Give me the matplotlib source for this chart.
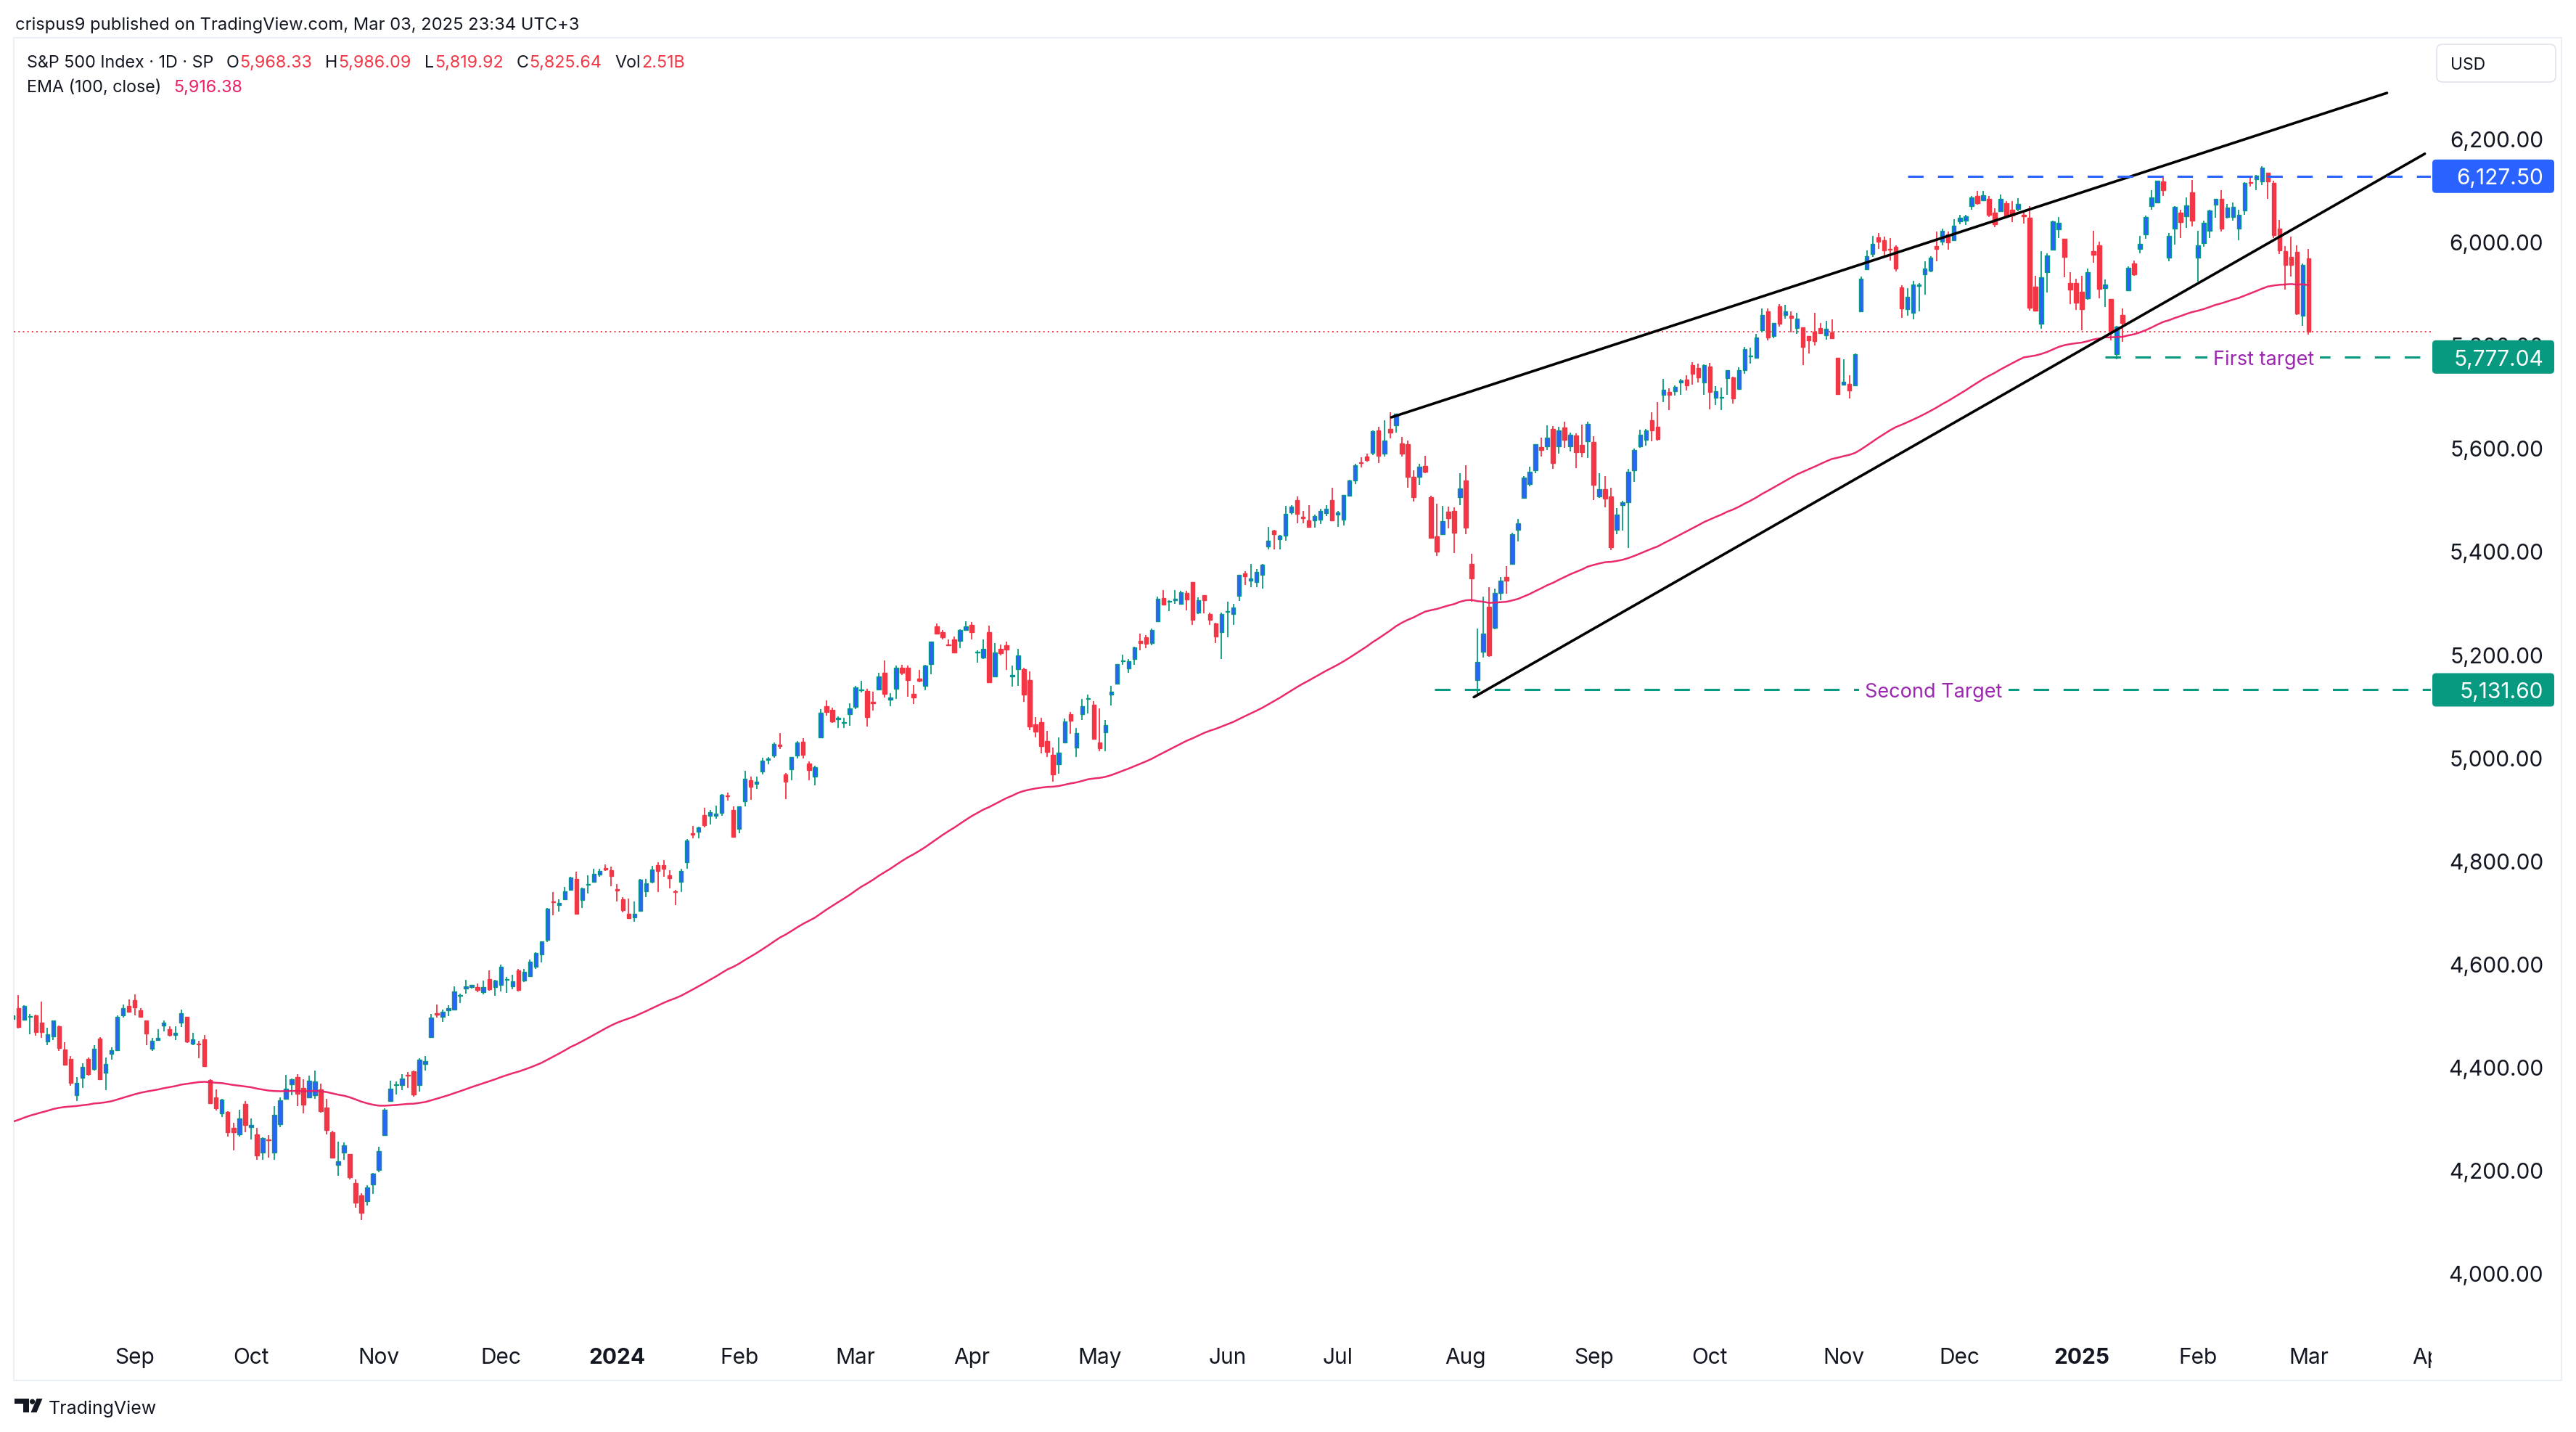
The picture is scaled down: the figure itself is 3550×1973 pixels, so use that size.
import numpy as np
import matplotlib
matplotlib.use("Agg")
import matplotlib.pyplot as plt
from matplotlib import transforms
from matplotlib.patches import Rectangle, FancyBboxPatch, Polygon, Circle
from matplotlib.transforms import Bbox, TransformedBbox

# ---------------- DATA (S&P 500 daily, 3 Aug 2023 .. 3 Mar 2025) ----------------
opens = [
    4494,4514,4492,4498,4501,4487,4450,4459,4479,4434,4416,4345,4380,4416,4396,4455,4389,4426,4433,4500,4518,  # Aug23
    4530,4510,4490,4435,4452,4480,4474,4462,4487,4498,4445,4445,4454,4375,4341,4311,4313,4282,4270,4328,  # Sep23
    4284,4270,4234,4259,4235,4290,4339,4367,4381,4360,4342,4346,4357,4322,4274,4210,4235,4232,4176,4152,4140,4172,  # Oct23
    4201,4268,4334,4365,4365,4384,4392,4365,4406,4458,4505,4497,4510,4512,4538,4553,4555,4555,4546,4571,4555,  # Nov23
    4559,4569,4557,4587,4568,4576,4594,4618,4647,4722,4714,4726,4744,4765,4724,4754,4759,4774,4786,4782,  # Dec23
    4745,4726,4698,4690,4703,4741,4760,4792,4791,4772,4740,4760,4797,4853,4856,4889,4887,4888,4893,4926,4899,  # Jan24
    4862,4916,4957,4950,4973,4996,5004,5026,4967,4977,5004,5031,4989,4964,5039,5100,5093,5074,5068,5085,  # Feb24
    5098,5131,5130,5109,5132,5164,5112,5134,5174,5175,5124,5154,5139,5182,5254,5243,5220,5229,5226,5248,  # Mar24
    5258,5204,5194,5244,5158,5211,5218,5158,5172,5171,5150,5065,5069,5032,5005,4988,5029,5085,5020,5084,5114,5103,  # Apr24
    5029,5049,5122,5143,5187,5173,5191,5226,5233,5222,5264,5310,5303,5305,5298,5319,5340,5282,5315,5279,5260,5244,  # May24
    5283,5278,5314,5357,5343,5341,5354,5410,5441,5424,5431,5476,5500,5467,5460,5460,5461,5474,5499,  # Jun24
    5471,5461,5508,5537,5573,5584,5591,5635,5590,5638,5644,5610,5608,5544,5545,5566,5505,5429,5433,5477,5479,5505,  # Jul24
    5537,5376,5151,5206,5293,5252,5319,5351,5376,5442,5504,5531,5557,5602,5603,5637,5603,5640,5603,5625,5607,5613,  # Aug24
    5612,5507,5520,5507,5442,5490,5496,5557,5603,5616,5655,5641,5703,5709,5711,5728,5733,5762,5756,5727,  # Sep24
    5758,5698,5698,5736,5737,5715,5751,5778,5775,5829,5866,5817,5875,5859,5857,5833,5835,5817,5826,5833,5819,5825,5775,  # Oct24
    5723,5725,5722,5865,5947,5977,6009,6004,5986,5990,5912,5869,5862,5915,5937,5944,5992,6000,6014,6003,  # Nov24
    6040,6042,6069,6089,6081,6083,6057,6060,6075,6063,6064,6053,6047,5913,5842,5941,5985,6024,6006,5920,5920,  # Dec24
    5903,5891,5982,5994,5910,5890,5782,5859,5906,5958,5986,6015,6069,6076,6118,5969,6026,6057,6050,6096,  # Jan25
    5969,5998,6021,6072,6083,6048,6049,6026,6061,6116,6121,6117,6134,6115,6026,5982,5971,5981,5857,  # Feb25
    5968.33,  # Mar25
]
highs = [
    4519,4540,4520,4503,4502,4527,4476,4490,4480,4449,4421,4381,4408,4419,4443,4458,4419,4439,4500,4521,4532,
    4541,4514,4491,4457,4474,4491,4479,4479,4511,4498,4466,4451,4462,4376,4357,4338,4314,4292,4317,4334,
    4300,4282,4264,4268,4324,4341,4385,4378,4386,4377,4383,4393,4368,4339,4276,4256,4254,4232,4183,4156,4171,4195,
    4245,4320,4374,4372,4386,4391,4393,4418,4421,4503,4521,4511,4520,4557,4542,4569,4560,4562,4568,4587,4570,
    4599,4575,4579,4591,4590,4609,4623,4644,4709,4739,4726,4749,4769,4779,4748,4772,4785,4785,4793,4789,
    4755,4730,4727,4721,4765,4765,4790,4798,4802,4782,4744,4785,4842,4868,4866,4903,4898,4907,4929,4932,4906,
    4906,4975,4964,4964,5000,5001,5030,5048,4971,5002,5033,5038,4993,4984,5094,5111,5097,5080,5077,5105,
    5140,5149,5134,5128,5165,5189,5125,5179,5180,5179,5141,5170,5180,5225,5261,5247,5229,5235,5249,5264,
    5263,5208,5229,5256,5222,5219,5225,5178,5211,5175,5168,5079,5077,5052,5019,5039,5076,5089,5057,5114,5123,5110,
    5096,5073,5140,5181,5200,5192,5215,5240,5238,5250,5312,5325,5306,5325,5324,5323,5341,5311,5315,5281,5262,5281,
    5302,5298,5354,5362,5376,5366,5376,5447,5442,5432,5488,5490,5506,5479,5490,5472,5483,5490,5524,
    5479,5510,5539,5570,5583,5590,5635,5642,5655,5670,5667,5622,5615,5557,5570,5586,5508,5492,5488,5487,5486,5552,
    5567,5396,5250,5312,5330,5328,5351,5372,5436,5463,5546,5564,5608,5620,5644,5643,5641,5651,5631,5629,5646,5651,
    5623,5552,5546,5523,5484,5498,5560,5600,5636,5637,5670,5690,5734,5716,5722,5735,5741,5767,5764,5763,
    5765,5720,5718,5752,5739,5757,5796,5795,5822,5871,5871,5843,5879,5878,5866,5863,5835,5817,5862,5843,5847,5850,5776,
    5772,5742,5784,5933,5983,6012,6018,6010,6008,5993,5916,5910,5925,5921,5963,5972,6020,6026,6020,6044,
    6053,6053,6089,6099,6099,6089,6065,6092,6079,6079,6085,6058,6070,5935,5982,5978,6041,6049,6006,5941,5929,
    5935,5949,6021,6001,5927,5890,5838,5871,5953,5964,6012,6051,6100,6119,6128,6018,6070,6063,6087,6120,
    6022,6042,6062,6084,6101,6074,6076,6063,6116,6128,6130,6147,6134,6119,6043,5992,6010,5994,5959,
    5986.09,
]
lows = [
    4485,4475,4492,4464,4461,4457,4443,4453,4432,4403,4364,4335,4360,4383,4394,4375,4356,4414,4431,4496,4507,
    4501,4496,4443,4431,4452,4470,4459,4453,4478,4447,4442,4417,4402,4329,4316,4303,4265,4238,4265,4274,
    4260,4220,4220,4225,4220,4283,4339,4346,4324,4311,4342,4338,4312,4269,4224,4190,4220,4182,4127,4103,4132,4154,
    4197,4268,4334,4347,4355,4360,4343,4353,4394,4458,4496,4488,4499,4510,4525,4542,4553,4546,4541,4548,4538,
    4547,4544,4551,4547,4565,4575,4591,4603,4643,4694,4702,4726,4744,4697,4709,4737,4758,4769,4780,4751,
    4722,4700,4687,4682,4703,4730,4756,4739,4769,4747,4714,4740,4785,4844,4844,4865,4870,4882,4887,4917,4845,
    4853,4906,4919,4939,4968,4987,5000,5017,4920,4956,4999,4999,4956,4946,5039,5082,5068,5057,5058,5062,
    5094,5127,5061,5092,5131,5117,5100,5114,5161,5118,5104,5146,5131,5162,5240,5229,5216,5203,5213,5246,
    5229,5185,5192,5146,5157,5198,5170,5138,5139,5108,5053,5040,5008,5001,4953,4969,5028,5047,5002,5073,5086,5035,
    5013,5012,5101,5143,5180,5165,5180,5208,5212,5218,5264,5297,5284,5299,5298,5286,5257,5278,5280,5257,5222,5192,
    5234,5257,5304,5335,5331,5331,5328,5404,5404,5404,5421,5471,5455,5454,5447,5446,5453,5468,5460,
    5447,5451,5507,5530,5563,5574,5587,5571,5584,5619,5631,5584,5523,5497,5529,5551,5426,5391,5432,5444,5397,5490,
    5434,5302,5120,5194,5195,5249,5306,5318,5376,5420,5504,5527,5551,5584,5597,5560,5590,5601,5594,5561,5583,5581,
    5499,5504,5485,5402,5434,5441,5406,5535,5601,5605,5614,5615,5690,5674,5702,5703,5712,5724,5728,5703,
    5675,5684,5674,5704,5687,5714,5745,5764,5775,5824,5809,5813,5836,5852,5824,5822,5762,5784,5800,5822,5811,5812,5703,
    5723,5697,5722,5865,5947,5971,5986,5969,5964,5943,5853,5857,5850,5866,5898,5942,5963,5993,5985,6003,
    6035,6033,6062,6072,6080,6048,6028,6060,6051,6039,6059,6036,5867,5866,5832,5902,5983,6007,5932,5879,5868,
    5829,5888,5960,5891,5874,5809,5773,5807,5906,5934,5978,6006,6062,6075,6089,5962,5995,6007,6027,6030,
    5923,5990,6007,6047,6020,6045,6042,6003,6052,6107,6100,6111,6084,6008,5977,5908,5933,5858,5837,
    5819.92,
]
closes = [
    4501,4478,4518,4499,4468,4468,4464,4490,4437,4404,4370,4370,4400,4387,4436,4376,4406,4433,4497,4514,4508,
    4516,4497,4465,4451,4457,4487,4462,4467,4505,4450,4454,4444,4402,4330,4320,4337,4274,4274,4300,4288,
    4288,4229,4263,4258,4308,4336,4358,4377,4349,4327,4374,4373,4314,4278,4224,4217,4248,4186,4137,4117,4167,4194,
    4237,4318,4358,4366,4378,4383,4347,4415,4412,4496,4502,4508,4514,4547,4538,4557,4559,4550,4555,4551,4568,
    4595,4569,4567,4549,4585,4604,4622,4644,4707,4720,4719,4741,4768,4698,4746,4755,4775,4781,4783,4770,
    4743,4705,4689,4697,4764,4757,4783,4780,4784,4766,4739,4780,4840,4851,4865,4869,4894,4891,4928,4925,4846,
    4906,4959,4943,4954,4995,4998,5027,5022,4953,5001,5030,5006,4976,4982,5087,5089,5070,5078,5069,5096,
    5137,5131,5079,5105,5157,5124,5117,5175,5165,5150,5117,5149,5179,5225,5241,5234,5218,5204,5248,5254,
    5243,5205,5211,5147,5204,5202,5209,5161,5199,5123,5061,5051,5022,5011,4967,5010,5070,5072,5048,5100,5116,5036,
    5018,5064,5128,5181,5187,5187,5214,5223,5221,5247,5308,5297,5303,5308,5321,5307,5268,5305,5306,5267,5235,5278,
    5283,5291,5354,5352,5347,5360,5375,5421,5434,5431,5473,5487,5473,5464,5448,5469,5478,5483,5460,
    5475,5509,5537,5567,5572,5577,5633,5585,5615,5631,5667,5589,5545,5505,5564,5555,5427,5400,5459,5464,5436,5522,
    5446,5347,5186,5240,5199,5319,5344,5344,5434,5455,5543,5554,5608,5597,5621,5571,5635,5617,5626,5592,5592,5648,
    5529,5520,5503,5408,5471,5496,5554,5596,5626,5634,5635,5618,5714,5703,5719,5732,5722,5745,5738,5762,
    5709,5710,5700,5751,5696,5751,5792,5780,5815,5859,5815,5843,5841,5865,5853,5851,5797,5809,5808,5823,5832,5813,5705,
    5729,5712,5782,5929,5973,5996,6001,5984,5985,5949,5871,5894,5917,5917,5949,5969,5987,6021,5999,6032,
    6047,6050,6087,6075,6090,6053,6034,6084,6051,6051,6074,6050,5872,5867,5931,5974,6040,6037,5971,5907,5882,
    5869,5942,5975,5909,5918,5827,5836,5843,5950,5937,5997,6049,6086,6119,6101,6012,6068,6039,6071,6041,
    5994,6037,6061,6084,6026,6066,6068,6052,6115,6114,6129,6144,6117,6013,5983,5955,5956,5861,5955,
    5825.64,
]
last_volume = "2.51B"
ema_length = 100
ema_seed = 4290.0          # EMA(100) value just before the first visible bar
ema_last_shown = 5916.38   # legend value

# month labels and bars per month (Aug23 partial .. Mar25 full month)
month_labels = ["Sep", "Oct", "Nov", "Dec", "2024", "Feb", "Mar", "Apr", "May", "Jun", "Jul",
                "Aug", "Sep", "Oct", "Nov", "Dec", "2025", "Feb", "Mar", "Apr"]
month_bars = [21, 20, 22, 21, 20, 21, 20, 20, 22, 22, 19, 22, 22, 20, 23, 20, 21, 20, 19, 21]

price_ticks = [4000, 4200, 4400, 4600, 4800, 5000, 5200, 5400, 5600, 5800, 6000, 6200]

# drawings (bar index, price)
upper_wedge = ([237.2, 408.5], [5660, 6289])
lower_wedge = ([251.4, 415.0], [5117.5, 6171])
resistance = (326, 6127.50)
first_target = (360, 5777.04, "First target", 387.3)
second_target = (244.6, 5131.60, "Second Target", 330.5)

# ---------------- STYLE ----------------
plt.rcParams["font.family"] = ["Inter", "DejaVu Sans"]
DARK = "#131722"
RED = "#f23645"
GREEN = "#089981"
BLUE = "#2962ff"
PINK = "#e91e63"
PURPLE = "#9c27b0"

W, H, DPI = 3550, 1974, 100
fig = plt.figure(figsize=(W / DPI, H / DPI), dpi=DPI, facecolor="white")

PL, PR, PT, PB = 19, 3350, 53, 1838
YMIN, YMAX = 3884.0, 6396.0
XMIN, XMAX = 0.2, 416.05

ov = fig.add_axes([0, 0, 1, 1], zorder=0)
ov.set_xlim(0, W)
ov.set_ylim(H, 0)
ov.axis("off")
ov.patch.set_visible(False)

ax = fig.add_axes([PL / W, 1 - PB / H, (PR - PL) / W, (PB - PT) / H], zorder=1)
ax.axis("off")
ax.patch.set_visible(False)

n = min(len(opens), len(highs), len(lows), len(closes))
o = np.array(opens[:n], float)
h = np.array(highs[:n], float)
l = np.array(lows[:n], float)
c = np.array(closes[:n], float)
h = np.maximum(h, np.maximum(o, c))
l = np.minimum(l, np.minimum(o, c))
x = np.arange(n)
up = c >= o

# wicks
ax.vlines(x[up], l[up], h[up], color=GREEN, lw=1.3, zorder=2)
ax.vlines(x[~up], l[~up], h[~up], color=RED, lw=1.3, zorder=2)
# bodies
bot = np.minimum(o, c)
hgt = np.maximum(np.abs(c - o), 1.4)
ax.bar(x[up], hgt[up], bottom=bot[up], width=0.68, color=BLUE, edgecolor=GREEN, linewidth=1.0, zorder=3)
ax.bar(x[~up], hgt[~up], bottom=bot[~up], width=0.68, color=RED, edgecolor=RED, linewidth=1.0, zorder=3)

# EMA
alpha = 2.0 / (ema_length + 1)
ema = []
prev = ema_seed
for v in c:
    prev = prev + alpha * (v - prev)
    ema.append(prev)
ax.plot(x, ema, color=PINK, lw=1.8, zorder=4, alpha=0.95)

# last price dotted line
ax.axhline(c[-1], color=RED, lw=1.4, linestyle=(0, (1, 2.2)), zorder=1)

# wedge lines
for xs, ys in (upper_wedge, lower_wedge):
    ax.plot(xs, ys, color="black", lw=2.6, solid_capstyle="round", zorder=5)

# horizontal dashed lines
ax.plot([resistance[0], XMAX], [resistance[1]] * 2, color=BLUE, lw=2.2,
        linestyle=(0, (7, 6.5)), zorder=5)
for xs, yv, lab, xt in (first_target, second_target):
    ax.plot([xs, XMAX], [yv, yv], color=GREEN, lw=2.2, linestyle=(0, (7, 6.5)), zorder=5)
    ax.text(xt, yv, lab, color=PURPLE, fontsize=19.5, ha="center", va="center_baseline",
            zorder=6, bbox=dict(boxstyle="square,pad=0.3", facecolor="white", edgecolor="none"))

ax.set_xlim(XMIN, XMAX)
ax.set_ylim(YMIN, YMAX)

# ---------------- price axis ----------------
ppp = (PB - PT) / (YMAX - YMIN)  # pixels per price unit
blend = transforms.blended_transform_factory(ov.transData, ax.transData)
lab_tr = transforms.offset_copy(blend, fig=fig, y=-10.7 * 72 / DPI, units="points")
for p in price_ticks:
    ov.text(3505, p, f"{p:,.2f}", transform=lab_tr, ha="right", va="baseline",
            fontsize=21.5, color=DARK, zorder=2)

box_h = 46 / ppp
for pv, col in ((resistance[1], BLUE), (first_target[1], GREEN), (second_target[1], GREEN)):
    bx = FancyBboxPatch((3352, pv - box_h / 2), 168, box_h, transform=blend,
                        boxstyle="round,pad=0,rounding_size=5", mutation_aspect=1 / ppp,
                        facecolor=col, edgecolor="none", zorder=3)
    ov.add_patch(bx)
    ov.text(3505, pv, f"{pv:,.2f}", transform=lab_tr, ha="right", va="baseline",
            fontsize=21.5, color="white", zorder=4)

# ---------------- time axis ----------------
ticks = np.cumsum(month_bars)
tblend = transforms.blended_transform_factory(ax.transData, ov.transData)
clipbox = TransformedBbox(Bbox([[0, 0], [3351 / W, 1]]), fig.transFigure)
for t, lab in zip(ticks, month_labels):
    bold = lab.isdigit()
    tx = ov.text(t, 1879, lab, transform=tblend, ha="center", va="baseline", fontsize=21.5,
                 color=DARK, fontweight="bold" if bold else "normal", zorder=2)
    tx.set_clip_box(clipbox)
    tx.set_clip_on(True)

# ---------------- frame, header, legend ----------------
ov.add_patch(Rectangle((19, 53), 3530 - 19, 1903 - 53, fill=False, edgecolor="#eceff4", lw=1.6, zorder=1))

ov.text(21, 40.7, "crispus9 published on TradingView.com, Mar 03, 2025 23:34 UTC+3",
        fontsize=17.1, color=DARK, ha="left", va="baseline")

renderer = fig.canvas.get_renderer()


def chain(parts, x0, yb, size):
    xx = x0
    for s, col, gap in parts:
        t = ov.text(xx, yb, s, color=col, fontsize=size, ha="left", va="baseline", zorder=3)
        bb = t.get_window_extent(renderer=renderer)
        xx += bb.width + gap


chain([("S&P 500 Index · 1D · SP", DARK, 17),
       ("O", DARK, 1), (f"{o[-1]:,.2f}", RED, 18),
       ("H", DARK, 1), (f"{h[-1]:,.2f}", RED, 18),
       ("L", DARK, 1), (f"{l[-1]:,.2f}", RED, 18),
       ("C", DARK, 1), (f"{c[-1]:,.2f}", RED, 18),
       ("Vol", DARK, 1), (last_volume, RED, 0)], 37, 93.3, 16.8)
chain([("EMA (100, close)", DARK, 17), (f"{ema_last_shown:,.2f}", PINK, 0)], 37, 127, 16.8)

# USD box
ov.add_patch(FancyBboxPatch((3358, 62), 164, 52, boxstyle="round,pad=0,rounding_size=8",
                            facecolor="white", edgecolor="#e0e3eb", lw=1.2, zorder=2))
ov.text(3377, 96, "USD", fontsize=16.5, color=DARK, ha="left", va="baseline", zorder=3)

# TradingView logo + text
ov.add_patch(Rectangle((20, 1928), 20, 7, facecolor=DARK, edgecolor="none"))
ov.add_patch(Rectangle((32, 1928), 8, 19, facecolor=DARK, edgecolor="none"))
ov.add_patch(Circle((44.6, 1932.2), 3.6, facecolor=DARK, edgecolor="none"))
ov.add_patch(Polygon([(42.5, 1947), (50.5, 1947), (58.5, 1928), (50.5, 1928)], closed=True,
                     facecolor=DARK, edgecolor="none"))
ov.text(67, 1948, "TradingView", fontsize=18, color=DARK, ha="left", va="baseline")

fig.savefig("out.png", dpi=DPI, facecolor="white")
